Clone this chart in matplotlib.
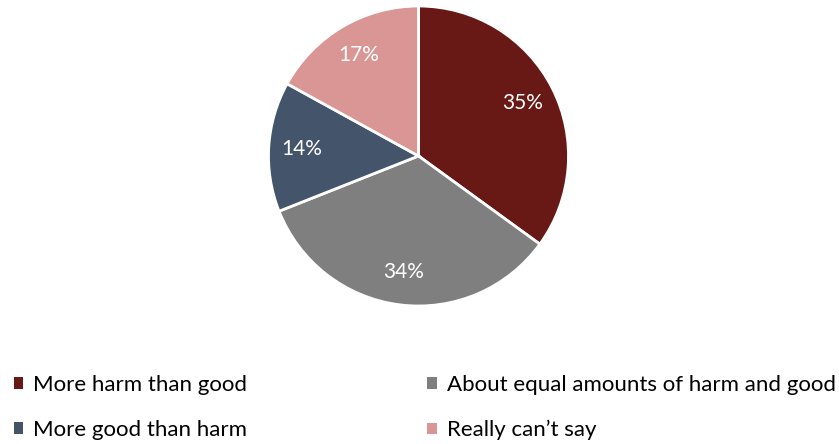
import matplotlib
matplotlib.use("Agg")
import matplotlib.pyplot as plt

categories = [
    "More harm than good",
    "About equal amounts of harm and good",
    "More good than harm",
    "Really can\u2019t say",
]
shares = [35, 34, 14, 17]
colors = ["#691915", "#7F7F7F", "#44546A", "#D99694"]

plt.rcParams["font.family"] = ["Lato", "DejaVu Sans"]

W, H = 839, 444
fig = plt.figure(figsize=(W / 100, H / 100), dpi=100)

cx, cy, r = 418.5, 156, 150
ax = fig.add_axes([(cx - r) / W, (H - cy - r) / H, 2 * r / W, 2 * r / H])

wedges, texts, autotexts = ax.pie(
    shares,
    colors=colors,
    startangle=90,
    counterclock=False,
    autopct=lambda p: f"{p:.0f}%",
    pctdistance=0.78,
    wedgeprops=dict(edgecolor="white", linewidth=2),
    textprops=dict(color="white", fontsize=15),
)
ax.set_xlim(-1, 1)
ax.set_ylim(-1, 1)
ax.set_aspect("equal")

# Legend laid out row-wise in two columns (legend fills column-first)
order = [0, 2, 1, 3]
leg = fig.legend(
    [wedges[i] for i in order],
    [categories[i] for i in order],
    loc="upper left",
    bbox_to_anchor=(-6 / W, 1 - 355 / H),
    ncol=2,
    frameon=False,
    fontsize=16,
    handlelength=0.42,
    handleheight=0.42,
    handletextpad=0.45,
    columnspacing=8.1,
    labelspacing=1.13,
)
for h in leg.legend_handles:
    h.set_edgecolor("none")

fig.savefig("out.png", dpi=100)
